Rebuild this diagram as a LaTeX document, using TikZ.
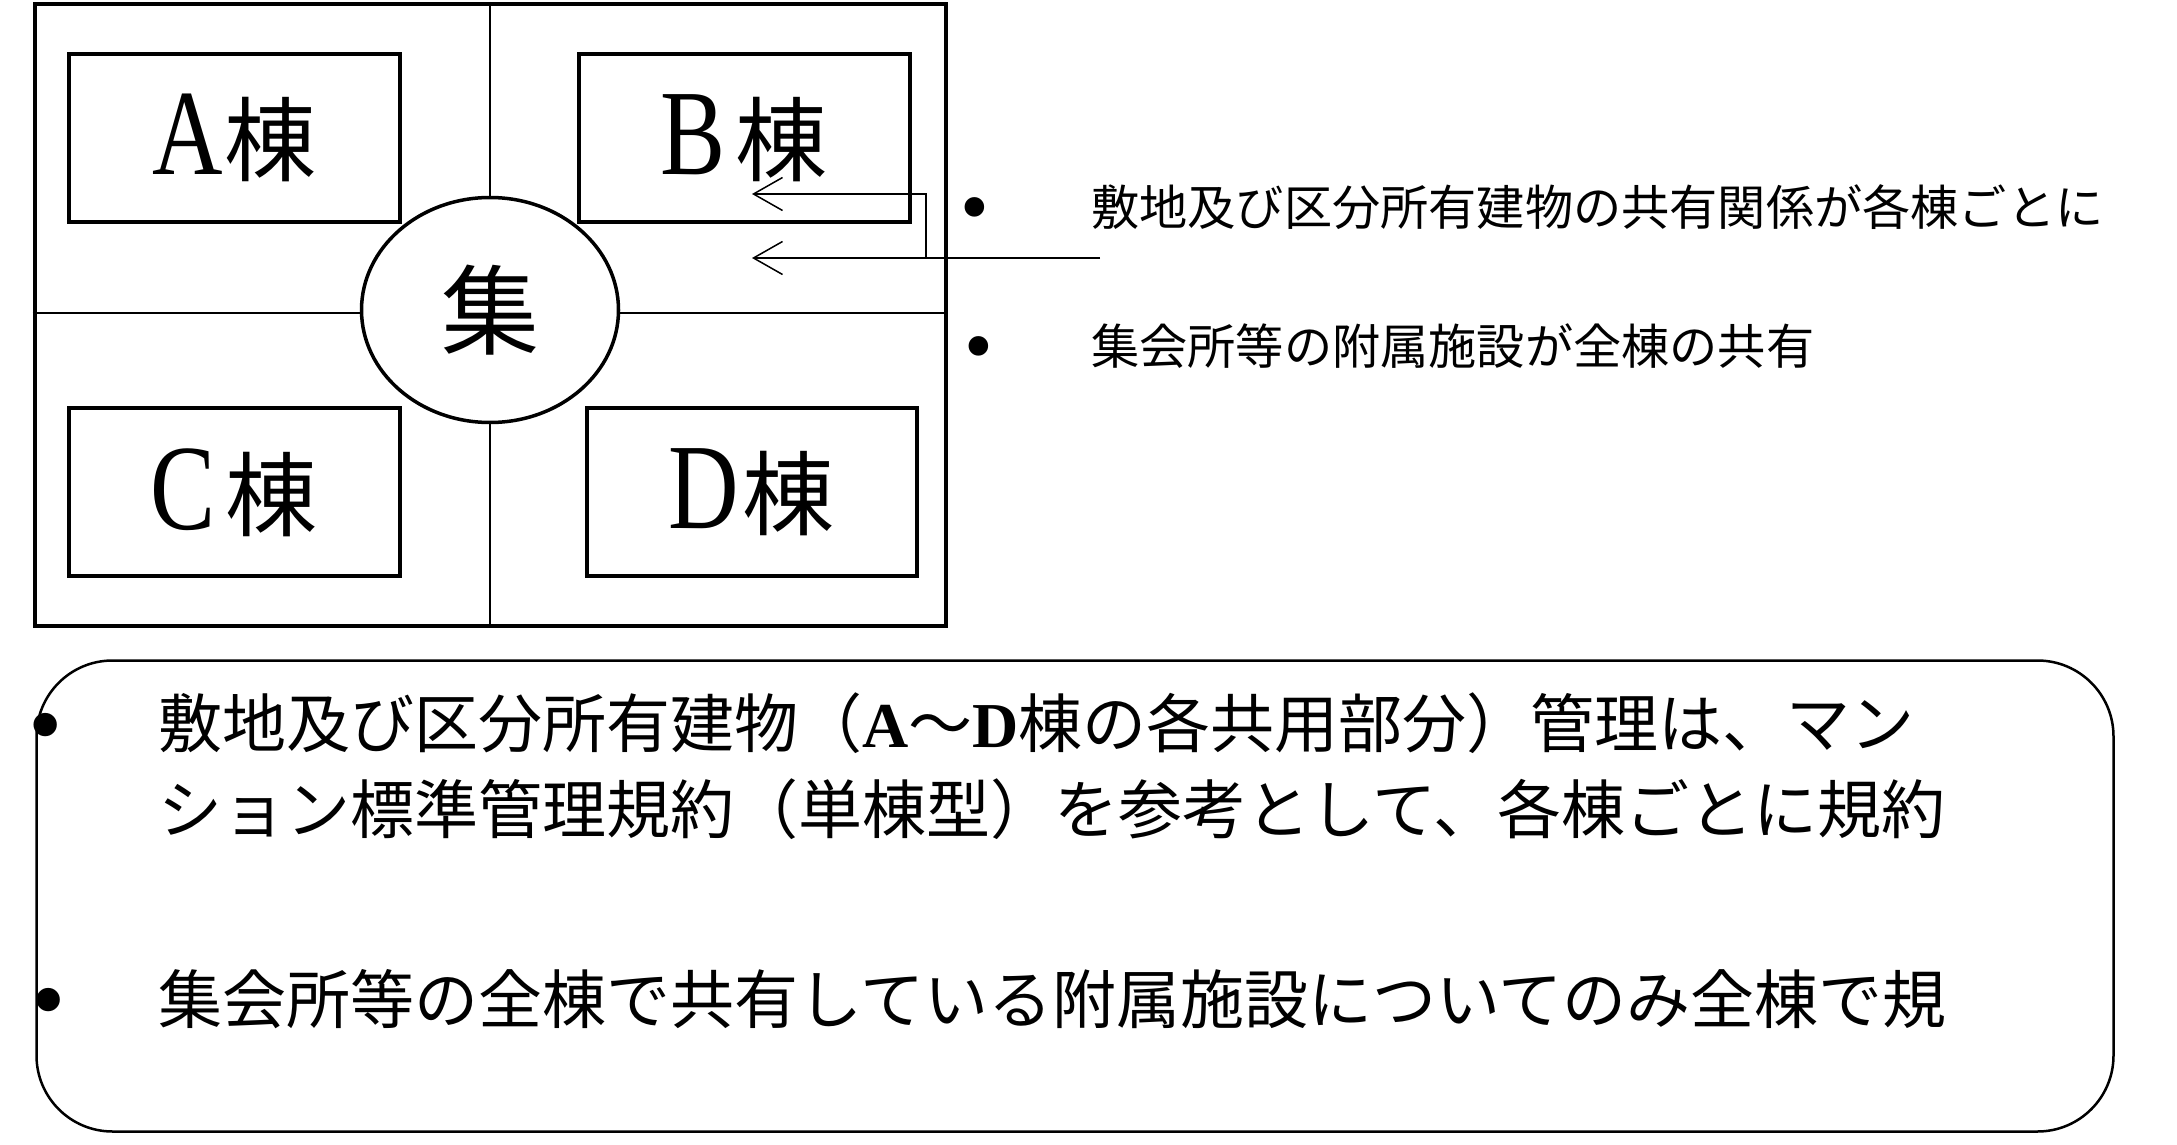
\documentclass[tikz,border=0pt]{standalone}
\usepackage{fontspec}
\usepackage{graphicx}
\setmainfont{Liberation Serif}
\newfontfamily\jp{Noto Sans CJK JP}
\usetikzlibrary{shapes.geometric,arrows.meta}
\newcommand{\BigLat}[1]{\scalebox{0.8}[1]{\rmfamily\fontsize{122}{122}\selectfont #1}}
\begin{document}
\begin{tikzpicture}[x=1pt,y=-1pt,
  bldg/.style={draw, line width=4pt, minimum width=331pt, minimum height=168pt, inner sep=0pt},
  bldgtext/.style={font={\jp\fontsize{92}{92}\selectfont}},
  divline/.style={line width=1.5pt},
  arr/.style={line width=1.5pt, -{Straight Barb[length=29pt,width=33pt,line width=1.5pt]}},
  dotsmall/.style={inner sep=0pt, font={\rmfamily\fontsize{82}{82}\selectfont}},
  dotbig/.style={inner sep=0pt, font={\rmfamily\fontsize{98}{98}\selectfont}},
  sidetext/.style={anchor=west, inner sep=0pt, font={\jp\fontsize{48.2}{50}\selectfont}},
  notetext/.style={anchor=west, inner sep=0pt, font={\jp\fontsize{64}{66}\selectfont}}]
\useasboundingbox (0,0) rectangle (2177,1145);
% site frame
\node[draw, line width=4pt, minimum width=911pt, minimum height=622pt, inner sep=0pt] (frame) at (490,315) {};
% buildings
\node[bldg, bldgtext] (A) at (234.4,137.9) {\BigLat{A}\hspace{2pt}棟};
\node[bldg, bldgtext] (B) at (744,138) {\BigLat{B}\hspace{10pt}棟};
\node[bldg, bldgtext] (C) at (234.4,492.4) {\BigLat{C}\hspace{10pt}棟};
\node[bldg, bldgtext, minimum width=330pt] (D) at (751.6,492) {\BigLat{D}\hspace{4pt}棟};
% meeting hall
\node[ellipse, draw, line width=3.5pt, minimum width=257pt, minimum height=225pt, inner sep=0pt,
      font={\jp\fontsize{98}{98}\selectfont}] (hall) at (490,310) {集};
% dividers
\coordinate (hl) at (35,313);
\draw[divline] (frame.north) -- (hall.north);
\draw[divline] (hall.south) -- (frame.south);
\draw[divline] (frame.west |- hl) -- (hall.west |- hl);
\draw[divline] (hall.east |- hl) -- (frame.east |- hl);
% arrows
\coordinate (src) at (1100,258);
\coordinate (jn) at (926,258);
\coordinate (bend) at (926,194);
\coordinate (tipU) at (752,194);
\coordinate (tipL) at (752,258);
\draw[arr] (src) -- (tipL);
\draw[arr] (jn) -- (bend) -- (tipU);
% side notes
\node[dotsmall] (s1) at (975,216) {•};
\node[sidetext] (st1) at (1091,207) {敷地及び区分所有建物の共有関係が各棟ごとに};
\node[dotsmall] (s2) at (979,355) {•};
\node[sidetext] (st2) at (1091,346) {集会所等の附属施設が全棟の共有};
% bottom notes box
\node[draw, line width=2.5pt, rounded corners=76pt, minimum width=2077pt, minimum height=471pt, inner sep=0pt] (notes) at (1075,896) {};
\node[dotbig] (n1) at (46,735) {•};
\node[notetext] (nt1) at (158,723) {敷地及び区分所有建物（{\rmfamily\bfseries A}～{\rmfamily\bfseries D}棟の各共用部分）管理は、マン};
\node[notetext] (nt1b) at (158,809) {ション標準管理規約（単棟型）を参考として、各棟ごとに規約};
\node[dotbig] (n2) at (49,1010) {•};
\node[notetext] (nt2) at (158,999) {集会所等の全棟で共有している附属施設についてのみ全棟で規};
\end{tikzpicture}
\end{document}
